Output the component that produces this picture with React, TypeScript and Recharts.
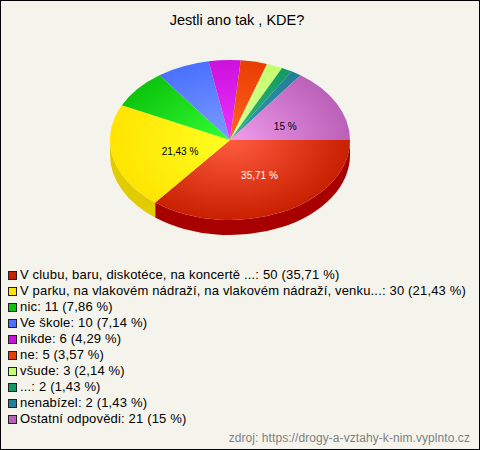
import { Legend, Pie, PieChart, Sector } from "recharts"

const answers = [
  "V clubu, baru, diskotéce, na koncertě ...",
  "V parku, na vlakovém nádraží, na vlakovém nádraží, venku...",
  "nic",
  "Ve škole",
  "nikde",
  "ne",
  "všude",
  "...",
  "nenabízel",
  "Ostatní odpovědi",
]
const counts = [50, 30, 11, 10, 6, 5, 3, 2, 2, 21]
const shares = ["35,71", "21,43", "7,86", "7,14", "4,29", "3,57", "2,14", "1,43", "1,43", "15"]
const edgeColors = ["#c82000", "#ffe400", "#0cc40c", "#4a70ff", "#cc11dd", "#e83c00", "#c4ff70", "#119966", "#227f99", "#bb60b8"]
const centerColors = ["#ff5c40", "#ffff22", "#33ff33", "#7c9cff", "#ee33ff", "#ff6622", "#d8ff99", "#33bb77", "#3399aa", "#f09cec"]
const wallColors = ["#a80000", "#e0cc00", "#0a9a0a", "#3a58cc", "#a00cb0", "#b83000", "#9ccc58", "#0c7850", "#1a6478", "#96509a"]
const labelColors = ["#ffffff", "#000000", "", "", "", "", "", "", "", "#000000"]

const squash = 2 / 3
const depth = 15
const font = "'Liberation Sans', Arial, sans-serif"

const data = answers.map((name, i) => ({
  name,
  value: counts[i],
  share: shares[i],
  fill: edgeColors[i],
  center: centerColors[i],
  wall: wallColors[i],
  labelColor: labelColors[i],
}))

// side wall (only the front half shows) and the top squashed into an ellipse
function Slice(props: any) {
  const { cx, cy, outerRadius, startAngle, endAngle, payload, index } = props
  const id = `slice-${index}`
  const ry = outerRadius * squash
  const from = Math.max(-startAngle, 0)
  const to = Math.min(-endAngle, 180)
  const px = (a: number) => cx + outerRadius * Math.cos((a * Math.PI) / 180)
  const py = (a: number) => cy + ry * Math.sin((a * Math.PI) / 180)
  const wall = [
    `M${px(from)} ${py(from)}`,
    `A${outerRadius} ${ry} 0 0 1 ${px(to)} ${py(to)}`,
    `L${px(to)} ${py(to) + depth}`,
    `A${outerRadius} ${ry} 0 0 0 ${px(from)} ${py(from) + depth}`,
    "Z",
  ].join(" ")
  return (
    <g>
      {to > from && <path d={wall} fill={payload.wall} />}
      <g transform={`translate(${cx} ${cy}) scale(1 ${squash}) translate(${-cx} ${-cy})`}>
        <defs>
          <radialGradient id={id} gradientUnits="userSpaceOnUse" cx={cx} cy={cy} r={outerRadius}>
            <stop offset="0%" stopColor={payload.center} />
            <stop offset="100%" stopColor={payload.fill} />
          </radialGradient>
        </defs>
        <Sector cx={cx} cy={cy} innerRadius={0} outerRadius={outerRadius} startAngle={startAngle} endAngle={endAngle} fill={`url(#${id})`} stroke="none" />
      </g>
    </g>
  )
}

function SliceLabel(props: any) {
  const { cx, cy, outerRadius, midAngle, payload } = props
  if (!payload.labelColor) return null
  const a = (-midAngle * Math.PI) / 180
  const x = cx + outerRadius * 0.47 * Math.cos(a) + 5
  const y = cy + outerRadius * squash * 0.45 * Math.sin(a) + 3
  return (
    <text x={x} y={y} textAnchor="middle" dominantBaseline="central" fontSize={10} fontFamily={font} fill={payload.labelColor}>
      {payload.share} %
    </text>
  )
}

function LegendList(props: any) {
  return (
    <div style={{ fontFamily: font, fontSize: 13, letterSpacing: 0.17, color: "#000" }}>
      {props.payload.map((entry: any) => (
        <div key={entry.value} style={{ height: 16, lineHeight: "16px", whiteSpace: "nowrap", display: "flex", alignItems: "center" }}>
          <span style={{ width: 7, height: 7, marginRight: 3, background: entry.payload.fill, border: "1px solid #222" }} />
          {entry.value}: {entry.payload.value} ({entry.payload.share} %)
        </div>
      ))}
    </div>
  )
}

export default function App() {
  return (
    <div style={{ position: "absolute", left: 0, top: 0, width: 478, height: 448, background: "#f4f4ec", border: "1px solid #000" }}>
      <PieChart width={478} height={448} margin={{ top: 0, right: 0, bottom: 0, left: 0 }}>
        <text x={236} y={24} textAnchor="middle" fontSize={14.5} fontFamily={font} fill="#000">
          Jestli ano tak , KDE?
        </text>
        <text x={469} y={441} textAnchor="end" fontSize={12} letterSpacing={0.07} fontFamily={font} fill="#808080">
          zdroj: https://drogy-a-vztahy-k-nim.vyplnto.cz
        </text>
        <Pie data={data} dataKey="value" nameKey="name" cx={229} cy={139} outerRadius={120} startAngle={0} endAngle={-360} shape={Slice} label={SliceLabel} labelLine={false} isAnimationActive={false} />
        <Legend layout="horizontal" align="center" verticalAlign="middle" itemSorter={null} wrapperStyle={{ left: 7, top: 266, width: 470 }} content={LegendList} />
      </PieChart>
    </div>
  )
}
